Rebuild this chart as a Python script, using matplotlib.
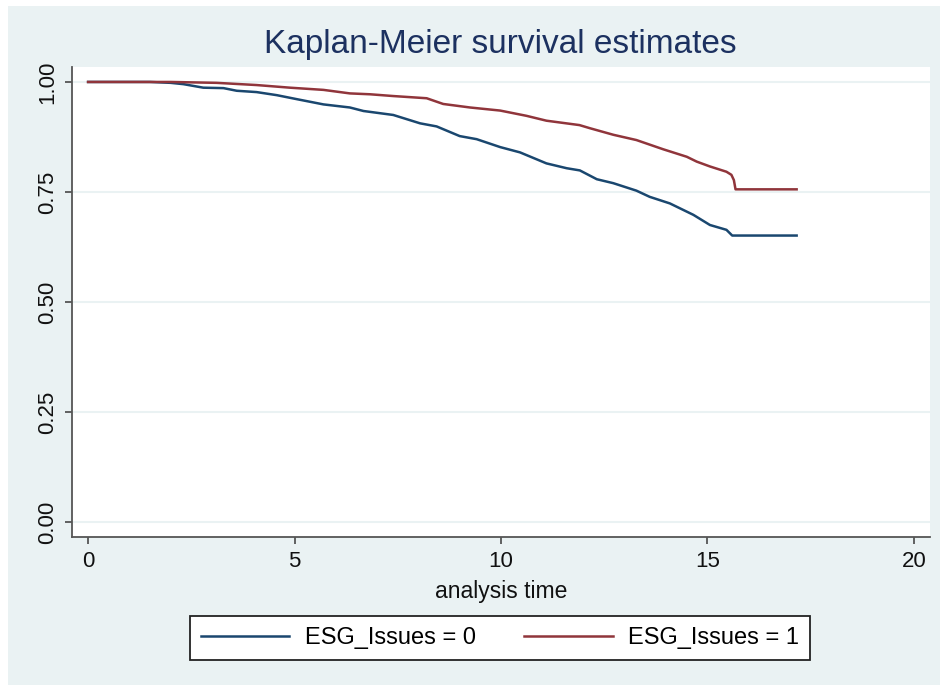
import matplotlib
matplotlib.use("Agg")
import matplotlib.pyplot as plt
from matplotlib.patches import Rectangle

plt.rcParams['font.family'] = ['Liberation Sans', 'DejaVu Sans']

# Kaplan-Meier estimates
t_group0 = [0.0, 1.5, 2.0, 2.31, 2.79, 3.28, 3.6, 4.08, 4.57, 5.05, 5.7, 6.34, 6.67,
            7.39, 8.04, 8.44, 9.0, 9.41, 9.98, 10.46, 11.1, 11.59, 11.91, 12.32,
            12.72, 13.28, 13.6, 14.09, 14.66, 15.06, 15.46, 15.6, 17.16]
s_group0 = [1.0, 1.0, 0.998, 0.995, 0.987, 0.986, 0.980, 0.977, 0.970, 0.961, 0.949,
            0.942, 0.934, 0.925, 0.906, 0.899, 0.877, 0.870, 0.852, 0.840, 0.815,
            0.804, 0.799, 0.779, 0.770, 0.753, 0.739, 0.724, 0.698, 0.675, 0.664,
            0.651, 0.651]

t_group1 = [0.0, 2.0, 3.11, 4.08, 4.89, 5.7, 6.34, 6.83, 7.39, 8.2, 8.6, 9.25, 9.98,
            10.62, 11.1, 11.9, 12.15, 12.72, 13.28, 13.93, 14.5, 14.74, 15.06, 15.46,
            15.58, 15.64, 15.68, 17.16]
s_group1 = [1.0, 1.0, 0.998, 0.993, 0.987, 0.982, 0.974, 0.972, 0.968, 0.963, 0.950,
            0.942, 0.935, 0.923, 0.912, 0.902, 0.895, 0.880, 0.868, 0.847, 0.830,
            0.819, 0.808, 0.796, 0.789, 0.777, 0.756, 0.756]

series_labels = ["ESG_Issues = 0", "ESG_Issues = 1"]
x_ticks = [0, 5, 10, 15, 20]
y_ticks = [0.0, 0.25, 0.5, 0.75, 1.0]
y_ticklabels = ["0.00", "0.25", "0.50", "0.75", "1.00"]

BG = "#EAF2F3"
BLUE = "#1a476f"
RED = "#90353b"
AXC = "#555555"

fig = plt.figure(figsize=(9.4, 6.85), dpi=100)
fig.patch.set_facecolor("white")
fig.patches.append(Rectangle((8 / 940, 0), 1, (685 - 6) / 685, transform=fig.transFigure,
                             facecolor=BG, edgecolor="none", zorder=-10))

ax = fig.add_axes([72 / 940, (685 - 537) / 685, (930 - 72) / 940, (537 - 67) / 685])
ax.set_facecolor("white")

ax.plot(t_group0, s_group0, color=BLUE, lw=1.8, label=series_labels[0], zorder=3)
ax.plot(t_group1, s_group1, color=RED, lw=1.8, label=series_labels[1], zorder=3)

ax.set_xlim(-0.39, 20.39)
ax.set_ylim(-0.034, 1.034)
ax.set_xticks(x_ticks)
ax.set_yticks(y_ticks)
ax.set_yticklabels(y_ticklabels, rotation=90, va="center")
ax.grid(axis="y", color=BG, lw=1.5, zorder=0)
ax.set_axisbelow(True)

for s in ["top", "right"]:
    ax.spines[s].set_visible(False)
for s in ["left", "bottom"]:
    ax.spines[s].set_color(AXC)
    ax.spines[s].set_linewidth(1.3)
ax.tick_params(axis="both", direction="out", length=5, width=1.3, color=AXC,
               labelsize=16, labelcolor="#111111", pad=5)

ax.set_xlabel("analysis time", fontsize=16.5, color="#111111", labelpad=6)

fig.text(500 / 940, (685 - 45) / 685, "Kaplan-Meier survival estimates", ha="center", va="center",
         fontsize=24, color="#1c3160")

leg = fig.legend(loc="center", bbox_to_anchor=(500 / 940, (685 - 638) / 685), ncol=2,
                 fontsize=17, frameon=True, fancybox=False, handlelength=3.75,
                 handletextpad=0.65, columnspacing=2.05, borderpad=0.45, borderaxespad=0)
frame = leg.get_frame()
frame.set_edgecolor("#222222")
frame.set_linewidth(1.3)
frame.set_facecolor("white")
frame.set_alpha(1)
for line in leg.get_lines():
    line.set_linewidth(1.8)

fig.savefig("out.png", dpi=100, facecolor=fig.get_facecolor())
